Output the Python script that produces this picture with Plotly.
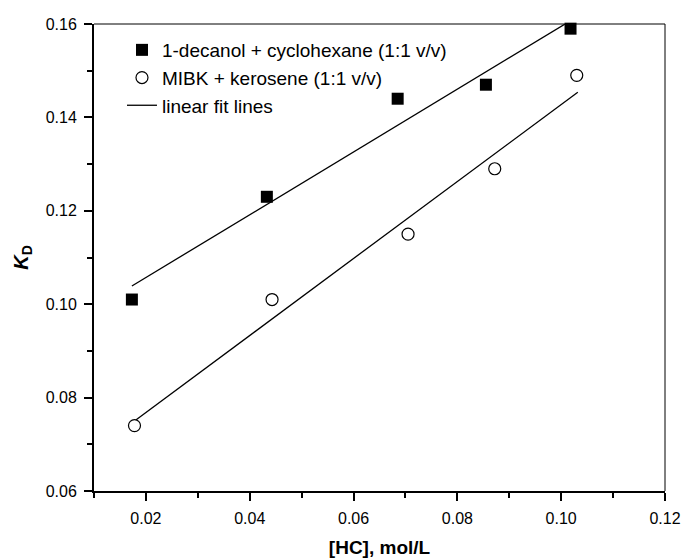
import plotly.graph_objects as go

# Data
decanol_x = [0.0173, 0.0433, 0.0685, 0.0855, 0.1018]
decanol_y = [0.101, 0.123, 0.144, 0.147, 0.159]
mibk_x = [0.0178, 0.0443, 0.0705, 0.0872, 0.1030]
mibk_y = [0.074, 0.101, 0.115, 0.129, 0.149]
fit_decanol_x = [0.0173, 0.1018]
fit_decanol_y = [0.1039, 0.1607]
fit_mibk_x = [0.0178, 0.1032]
fit_mibk_y = [0.0750, 0.1454]

x_tickvals = [0.02, 0.04, 0.06, 0.08, 0.10, 0.12]
y_tickvals = [0.06, 0.08, 0.10, 0.12, 0.14, 0.16]

FONT = "Liberation Sans, Arial, sans-serif"

fig = go.Figure()

fig.add_trace(go.Scatter(x=fit_decanol_x, y=fit_decanol_y, mode="lines",
                         line=dict(color="black", width=1.3),
                         name="linear fit lines", showlegend=True, legendrank=3))
fig.add_trace(go.Scatter(x=fit_mibk_x, y=fit_mibk_y, mode="lines",
                         line=dict(color="black", width=1.3),
                         name="linear fit lines", showlegend=False))
fig.add_trace(go.Scatter(x=decanol_x, y=decanol_y, mode="markers",
                         marker=dict(symbol="square", size=12, color="black",
                                     line=dict(width=0)),
                         name="1-decanol + cyclohexane (1:1 v/v)", legendrank=1,
                         cliponaxis=False))
fig.add_trace(go.Scatter(x=mibk_x, y=mibk_y, mode="markers",
                         marker=dict(symbol="circle", size=12, color="white",
                                     line=dict(width=1.2, color="black")),
                         name="MIBK + kerosene (1:1 v/v)", legendrank=2,
                         cliponaxis=False))

axis_common = dict(
    showgrid=False, zeroline=False, showline=True, linecolor="black", linewidth=2,
    ticks="outside", ticklen=8, tickwidth=1.5, tickcolor="black",
    tickformat=".2f", tickfont=dict(family=FONT, size=16, color="black"),
)

fig.update_xaxes(
    range=[0.01, 0.12], tickvals=x_tickvals,
    minor=dict(ticks="outside", ticklen=5, tickwidth=1.5, tickcolor="black", dtick=0.01, tick0=0.01),
    title=dict(text="<b>[HC], mol/L</b>", font=dict(family=FONT, size=19, color="black"), standoff=14),
    ticklabelstandoff=4,
    **axis_common,
)
fig.update_yaxes(
    range=[0.06, 0.16], tickvals=y_tickvals,
    minor=dict(ticks="outside", ticklen=5, tickwidth=1.5, tickcolor="black", dtick=0.01, tick0=0.06),
    title=dict(text="<b><i>K</i></b><sub><b>D</b></sub>", font=dict(family=FONT, size=20, color="black"), standoff=12),
    ticklabelstandoff=4,
    **axis_common,
)

# thin top and right frame lines
fig.add_shape(type="line", xref="paper", yref="paper", x0=0, x1=1, y0=1, y1=1,
              line=dict(color="black", width=1))
fig.add_shape(type="line", xref="paper", yref="paper", x0=1, x1=1, y0=0, y1=1,
              line=dict(color="black", width=1))

fig.update_layout(
    width=684, height=558,
    margin=dict(l=94, r=19, t=24, b=67, autoexpand=False),
    paper_bgcolor="white", plot_bgcolor="white",
    font=dict(family=FONT, color="black"),
    legend=dict(x=0.049, y=0.985, xanchor="left", yanchor="top",
                bgcolor="rgba(0,0,0,0)", font=dict(family=FONT, size=19, color="black"),
                tracegroupgap=0, itemsizing="trace"),
    showlegend=True,
)

fig.write_html("out.html")
